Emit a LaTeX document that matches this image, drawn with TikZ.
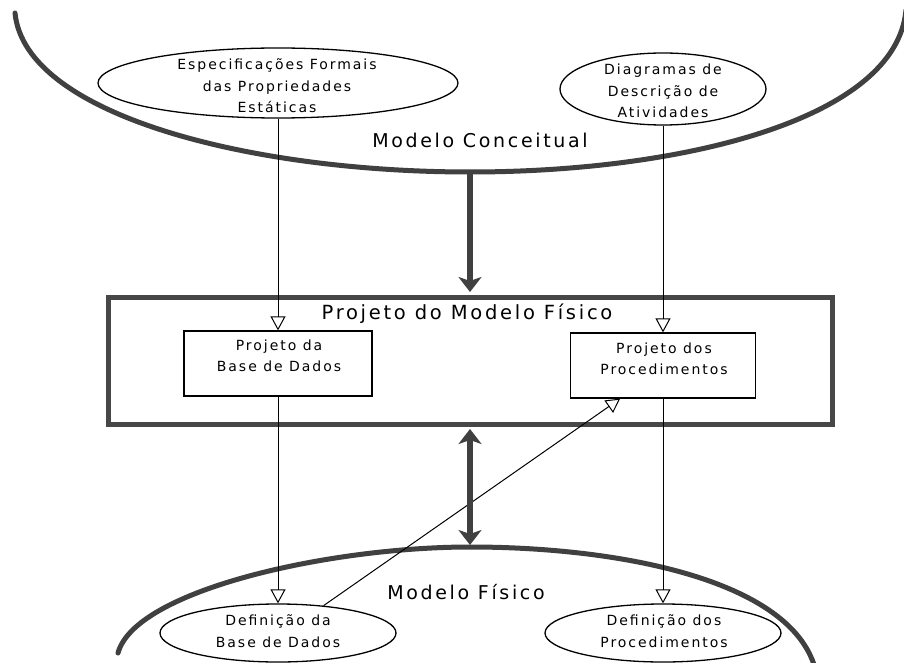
\documentclass[tikz,border=0pt]{standalone}
\usepackage{fontspec}
\newfontfamily\lblfont{DejaVu Sans}[LetterSpace=14]
\newcommand\smalltxt{\lblfont\fontsize{14}{21.5}\selectfont}
\newcommand\bigtxt{\lblfont\fontsize{19}{23}\selectfont}
\usetikzlibrary{arrows.meta,shapes.geometric,calc}

\begin{document}
\begin{tikzpicture}[x=1pt,y=-1pt,
  region/.style={line width=5pt, draw=black!75, line cap=round},
  thin/.style={line width=1pt, draw=black},
  opentip/.style={-{Triangle[open,length=14pt,width=15pt]}},
  bigarrow/.style={line width=6pt, draw=black!75},
  ell/.style={ellipse, draw, line width=1.3pt, inner sep=0pt},
  pbox/.style={rectangle, draw, line width=1.3pt, inner sep=0pt},
  frame/.style={rectangle, draw=black!72, line width=5pt, inner sep=0pt},
  small/.style={font=\smalltxt, align=center, inner sep=0pt},
  big/.style={font=\bigtxt, inner sep=0pt}]

  % page
  \fill[white] (0,0) rectangle (904,663);
  \useasboundingbox (0,0) rectangle (904,663);

  % conceptual model region (upper bowl)
  \coordinate (topbot) at (470,172);
  \draw[region] (15,13) .. controls (25,115) and (250,172) .. (topbot)
                        .. controls (680,172) and (896,120) .. (906,10);

  % physical model region (lower dome)
  \coordinate (lowtop) at (470,547);
  \draw[region] (118,653) .. controls (135,590) and (330,547) .. (lowtop)
                          .. controls (620,547) and (790,580) .. (815,668);

  % upper ellipses
  \node[ell, minimum width=360pt, minimum height=70pt] (e1) at (278,83) {};
  \node[small] (e1t) at (277,86) {Especificações Formais\\das Propriedades\\Estáticas};
  \node[ell, minimum width=206pt, minimum height=72pt] (e2) at (663,89) {};
  \node[small] (e2t) at (663,91) {Diagramas de\\Descrição de\\Atividades};
  \node[big] (mc) at (480,140) {Modelo Conceitual};

  % physical design frame
  \node[frame, minimum width=724pt, minimum height=127pt] (pf) at (470,360.5) {};
  \node[big] (pft) at (467,314) {\fontsize{19.5}{23}\selectfont Projeto do Modelo Físico};
  \node[pbox, minimum width=188pt, minimum height=65pt] (b1) at (278,363.5) {};
  \node[small] (b1t) at (279,356) {Projeto da\\Base de Dados};
  \node[pbox, minimum width=185pt, minimum height=65pt] (b2) at (663,365.5) {};
  \node[small] (b2t) at (664,359) {Projeto dos\\Procedimentos};

  % lower ellipses
  \node[ell, minimum width=236pt, minimum height=58pt] (d1) at (278,633) {};
  \node[small] (d1t) at (278,631) {Definição da\\Base de Dados};
  \node[ell, minimum width=236pt, minimum height=58pt] (d2) at (663,633) {};
  \node[small] (d2t) at (664,631) {Definição dos\\Procedimentos};
  \node[big] (mf) at (466,592) {Modelo Físico};

  % thin flows
  \draw[thin, opentip] (e1.south) -- (b1.north);
  \draw[thin, opentip] (e2.south) -- (b2.north);
  \draw[thin, opentip] (b1.south) -- (d1.north);
  \draw[thin, opentip] (b2.south) -- (d2.north);
  \coordinate (diagend) at ($(b2.south west)!0.27!(b2.south east)$);
  \draw[thin, opentip] (d1.31) -- (diagend);

  % heavy flows between levels
  \draw[bigarrow, -{Stealth[length=15pt,width=23pt,inset=4pt]}] (topbot) -- ([yshift=2.5pt]pf.north);
  \draw[bigarrow, {Stealth[length=15pt,width=23pt,inset=4pt]}-{Stealth[length=15pt,width=23pt,inset=4pt]}]
    ([yshift=-2.5pt]pf.south) -- ([yshift=2pt]lowtop);
\end{tikzpicture}
\end{document}
